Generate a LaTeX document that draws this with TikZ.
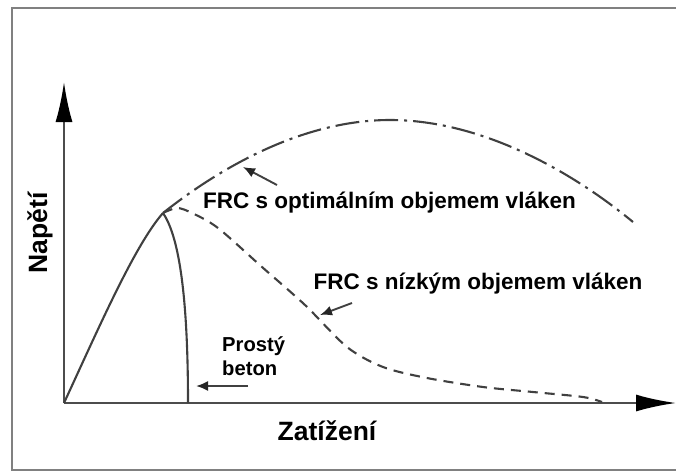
\documentclass[tikz,border=0pt]{standalone}
\usepackage{fontspec}
\setmainfont{Liberation Sans}
\usetikzlibrary{arrows.meta}

\begin{document}
\begin{tikzpicture}[x=1pt,y=-1pt]
\tikzstyle{every node}+=[inner sep=0pt]
\tikzstyle{axis}=[line width=2.2pt,draw=black!70,-{Latex[length=40pt,width=17pt,color=black]}]
\tikzstyle{curve}=[line width=2.1pt,draw=black!75,line join=round]
\tikzstyle{pointer}=[line width=1.9pt,draw=black!75,-{Latex[length=12pt,width=10pt,color=black!85]}]
\tikzstyle{lbltext}=[font=\fontsize{22.5}{26}\selectfont\bfseries]
\tikzstyle{axtext}=[font=\fontsize{26.5}{30}\selectfont\bfseries]
\useasboundingbox (0,0) rectangle (676,471);
\draw [black!50, line width=2pt] (12,8) rectangle (700,470);
\coordinate (origin) at (64,403);
\coordinate (xend) at (676,403);
\coordinate (yend) at (64,82);
\coordinate (peak) at (163,213);
\coordinate (top) at (390,120);
\coordinate (optend) at (633,222);
\draw [axis] (origin) -- (yend);
\draw [axis] (origin) -- (xend);
\draw [curve] (origin) .. controls (100,325) and (135,245) .. (peak);
\draw [curve] (peak) .. controls (178,235) and (188,290) .. (188,403);
\draw [curve, dash pattern=on 24pt off 6pt on 3pt off 6pt] (peak) .. controls (230,160) and (310,120) .. (top) .. controls (480,120) and (570,170) .. (optend);
\draw [curve, dash pattern=on 10pt off 7pt] plot [smooth] coordinates {(163,213) (177,208) (192,213) (218,228) (262,267) (305,305) (347,347) (383,367) (427,378) (483,387) (533,392) (583,397) (602,402)};
\node [lbltext, anchor=base] (optimal) at (389.5,208) {FRC s optimálním objemem vláken};
\node [lbltext, anchor=base] (low) at (478,289) {FRC s nízkým objemem vláken};
\node [lbltext, font=\fontsize{20.2}{24}\selectfont\bfseries, align=left, anchor=west] (plain) at (222,356) {Prostý\\beton};
\node [axtext, anchor=base] (xlabel) at (327,440) {Zatížení};
\node [axtext, rotate=90, anchor=base] (ylabel) at (47,233) {Napětí};
\coordinate (optfrom) at (277,185);
\coordinate (optto) at (243,167);
\coordinate (lowfrom) at (352,303);
\coordinate (lowto) at (320,315);
\coordinate (plainfrom) at (248,386);
\coordinate (plainto) at (196,386);
\draw [pointer] (optfrom) -- (optto);
\draw [pointer] (lowfrom) -- (lowto);
\draw [pointer] (plainfrom) -- (plainto);
\end{tikzpicture}
\end{document}
